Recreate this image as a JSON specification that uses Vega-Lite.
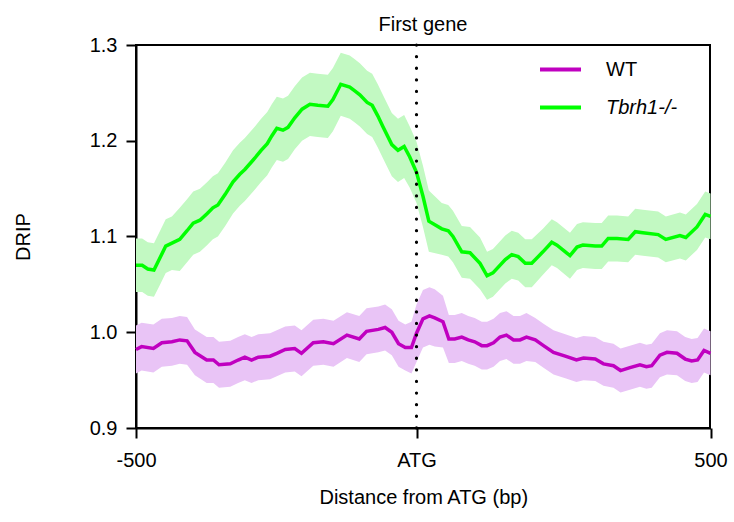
{
  "$schema": "https://vega.github.io/schema/vega-lite/v6.json",
  "width": 574,
  "height": 383,
  "autosize": {"type": "none"},
  "padding": {"left": 136, "top": 45, "right": 24, "bottom": 94},
  "background": "white",
  "title": {"text": "First gene", "fontSize": 20, "fontWeight": "normal", "font": "Liberation Sans", "color": "black", "offset": 0, "anchor": "middle"},
  "config": {
    "view": {"stroke": "black", "strokeWidth": 2},
    "font": "Liberation Sans",
    "axis": {"grid": false, "domainColor": "black", "domainWidth": 2, "tickColor": "black", "tickWidth": 2, "tickSize": 10, "labelColor": "black", "labelFontSize": 20, "labelFont": "Liberation Sans", "titleFont": "Liberation Sans", "titleFontSize": 20, "titleFontWeight": "normal", "titleColor": "black", "labelOverlap": false}
  },
  "data": {"values": [
    {"series":"Tbrh1-/-","x":-500,"v":1.070,"lo":1.042,"hi":1.098},
    {"series":"Tbrh1-/-","x":-489,"v":1.070,"lo":1.042,"hi":1.098},
    {"series":"Tbrh1-/-","x":-479,"v":1.066,"lo":1.038,"hi":1.094},
    {"series":"Tbrh1-/-","x":-468,"v":1.065,"lo":1.037,"hi":1.093},
    {"series":"Tbrh1-/-","x":-457,"v":1.078,"lo":1.050,"hi":1.106},
    {"series":"Tbrh1-/-","x":-447,"v":1.090,"lo":1.062,"hi":1.118},
    {"series":"Tbrh1-/-","x":-436,"v":1.093,"lo":1.065,"hi":1.121},
    {"series":"Tbrh1-/-","x":-422,"v":1.097,"lo":1.064,"hi":1.130},
    {"series":"Tbrh1-/-","x":-409,"v":1.106,"lo":1.073,"hi":1.139},
    {"series":"Tbrh1-/-","x":-398,"v":1.114,"lo":1.081,"hi":1.147},
    {"series":"Tbrh1-/-","x":-386,"v":1.117,"lo":1.084,"hi":1.150},
    {"series":"Tbrh1-/-","x":-373,"v":1.124,"lo":1.091,"hi":1.157},
    {"series":"Tbrh1-/-","x":-363,"v":1.130,"lo":1.097,"hi":1.163},
    {"series":"Tbrh1-/-","x":-354,"v":1.133,"lo":1.100,"hi":1.166},
    {"series":"Tbrh1-/-","x":-341,"v":1.144,"lo":1.111,"hi":1.177},
    {"series":"Tbrh1-/-","x":-327,"v":1.157,"lo":1.124,"hi":1.190},
    {"series":"Tbrh1-/-","x":-315,"v":1.165,"lo":1.132,"hi":1.198},
    {"series":"Tbrh1-/-","x":-306,"v":1.170,"lo":1.137,"hi":1.203},
    {"series":"Tbrh1-/-","x":-288,"v":1.182,"lo":1.149,"hi":1.215},
    {"series":"Tbrh1-/-","x":-277,"v":1.190,"lo":1.157,"hi":1.223},
    {"series":"Tbrh1-/-","x":-266,"v":1.197,"lo":1.164,"hi":1.230},
    {"series":"Tbrh1-/-","x":-258,"v":1.205,"lo":1.172,"hi":1.238},
    {"series":"Tbrh1-/-","x":-249,"v":1.213,"lo":1.180,"hi":1.246},
    {"series":"Tbrh1-/-","x":-238,"v":1.211,"lo":1.178,"hi":1.244},
    {"series":"Tbrh1-/-","x":-229,"v":1.214,"lo":1.181,"hi":1.247},
    {"series":"Tbrh1-/-","x":-217,"v":1.224,"lo":1.191,"hi":1.257},
    {"series":"Tbrh1-/-","x":-204,"v":1.233,"lo":1.200,"hi":1.266},
    {"series":"Tbrh1-/-","x":-190,"v":1.238,"lo":1.205,"hi":1.271},
    {"series":"Tbrh1-/-","x":-176,"v":1.237,"lo":1.204,"hi":1.270},
    {"series":"Tbrh1-/-","x":-158,"v":1.236,"lo":1.203,"hi":1.269},
    {"series":"Tbrh1-/-","x":-149,"v":1.243,"lo":1.210,"hi":1.276},
    {"series":"Tbrh1-/-","x":-135,"v":1.259,"lo":1.226,"hi":1.292},
    {"series":"Tbrh1-/-","x":-119,"v":1.256,"lo":1.223,"hi":1.289},
    {"series":"Tbrh1-/-","x":-110,"v":1.252,"lo":1.219,"hi":1.285},
    {"series":"Tbrh1-/-","x":-101,"v":1.248,"lo":1.215,"hi":1.281},
    {"series":"Tbrh1-/-","x":-88,"v":1.240,"lo":1.207,"hi":1.273},
    {"series":"Tbrh1-/-","x":-79,"v":1.237,"lo":1.204,"hi":1.270},
    {"series":"Tbrh1-/-","x":-69,"v":1.226,"lo":1.193,"hi":1.259},
    {"series":"Tbrh1-/-","x":-60,"v":1.215,"lo":1.182,"hi":1.248},
    {"series":"Tbrh1-/-","x":-44,"v":1.196,"lo":1.163,"hi":1.229},
    {"series":"Tbrh1-/-","x":-33,"v":1.190,"lo":1.157,"hi":1.223},
    {"series":"Tbrh1-/-","x":-22,"v":1.194,"lo":1.161,"hi":1.227},
    {"series":"Tbrh1-/-","x":-12,"v":1.183,"lo":1.151,"hi":1.215},
    {"series":"Tbrh1-/-","x":0,"v":1.167,"lo":1.135,"hi":1.199},
    {"series":"Tbrh1-/-","x":11,"v":1.142,"lo":1.110,"hi":1.174},
    {"series":"Tbrh1-/-","x":21,"v":1.116,"lo":1.084,"hi":1.148},
    {"series":"Tbrh1-/-","x":43,"v":1.108,"lo":1.081,"hi":1.135},
    {"series":"Tbrh1-/-","x":54,"v":1.106,"lo":1.079,"hi":1.133},
    {"series":"Tbrh1-/-","x":62,"v":1.100,"lo":1.073,"hi":1.127},
    {"series":"Tbrh1-/-","x":77,"v":1.084,"lo":1.057,"hi":1.111},
    {"series":"Tbrh1-/-","x":91,"v":1.083,"lo":1.056,"hi":1.110},
    {"series":"Tbrh1-/-","x":108,"v":1.072,"lo":1.045,"hi":1.099},
    {"series":"Tbrh1-/-","x":120,"v":1.059,"lo":1.034,"hi":1.084},
    {"series":"Tbrh1-/-","x":130,"v":1.062,"lo":1.037,"hi":1.087},
    {"series":"Tbrh1-/-","x":151,"v":1.076,"lo":1.051,"hi":1.101},
    {"series":"Tbrh1-/-","x":162,"v":1.081,"lo":1.056,"hi":1.106},
    {"series":"Tbrh1-/-","x":173,"v":1.079,"lo":1.054,"hi":1.104},
    {"series":"Tbrh1-/-","x":185,"v":1.072,"lo":1.047,"hi":1.097},
    {"series":"Tbrh1-/-","x":196,"v":1.072,"lo":1.047,"hi":1.097},
    {"series":"Tbrh1-/-","x":215,"v":1.084,"lo":1.060,"hi":1.108},
    {"series":"Tbrh1-/-","x":230,"v":1.094,"lo":1.070,"hi":1.118},
    {"series":"Tbrh1-/-","x":239,"v":1.091,"lo":1.067,"hi":1.115},
    {"series":"Tbrh1-/-","x":261,"v":1.080,"lo":1.056,"hi":1.104},
    {"series":"Tbrh1-/-","x":273,"v":1.089,"lo":1.065,"hi":1.113},
    {"series":"Tbrh1-/-","x":283,"v":1.091,"lo":1.067,"hi":1.115},
    {"series":"Tbrh1-/-","x":304,"v":1.090,"lo":1.066,"hi":1.114},
    {"series":"Tbrh1-/-","x":315,"v":1.090,"lo":1.066,"hi":1.114},
    {"series":"Tbrh1-/-","x":326,"v":1.098,"lo":1.074,"hi":1.122},
    {"series":"Tbrh1-/-","x":341,"v":1.098,"lo":1.074,"hi":1.122},
    {"series":"Tbrh1-/-","x":360,"v":1.097,"lo":1.073,"hi":1.121},
    {"series":"Tbrh1-/-","x":372,"v":1.105,"lo":1.081,"hi":1.129},
    {"series":"Tbrh1-/-","x":385,"v":1.104,"lo":1.080,"hi":1.128},
    {"series":"Tbrh1-/-","x":411,"v":1.102,"lo":1.078,"hi":1.126},
    {"series":"Tbrh1-/-","x":424,"v":1.097,"lo":1.073,"hi":1.121},
    {"series":"Tbrh1-/-","x":448,"v":1.101,"lo":1.077,"hi":1.125},
    {"series":"Tbrh1-/-","x":458,"v":1.099,"lo":1.075,"hi":1.123},
    {"series":"Tbrh1-/-","x":477,"v":1.110,"lo":1.086,"hi":1.134},
    {"series":"Tbrh1-/-","x":491,"v":1.123,"lo":1.099,"hi":1.147},
    {"series":"Tbrh1-/-","x":500,"v":1.121,"lo":1.097,"hi":1.145},
    {"series":"WT","x":-500,"v":0.982,"lo":0.957,"hi":1.007},
    {"series":"WT","x":-490,"v":0.985,"lo":0.960,"hi":1.010},
    {"series":"WT","x":-469,"v":0.983,"lo":0.958,"hi":1.008},
    {"series":"WT","x":-454,"v":0.989,"lo":0.964,"hi":1.014},
    {"series":"WT","x":-436,"v":0.990,"lo":0.965,"hi":1.015},
    {"series":"WT","x":-422,"v":0.992,"lo":0.967,"hi":1.017},
    {"series":"WT","x":-409,"v":0.991,"lo":0.966,"hi":1.016},
    {"series":"WT","x":-395,"v":0.979,"lo":0.955,"hi":1.003},
    {"series":"WT","x":-374,"v":0.971,"lo":0.947,"hi":0.995},
    {"series":"WT","x":-362,"v":0.971,"lo":0.947,"hi":0.995},
    {"series":"WT","x":-352,"v":0.966,"lo":0.942,"hi":0.990},
    {"series":"WT","x":-332,"v":0.967,"lo":0.943,"hi":0.991},
    {"series":"WT","x":-318,"v":0.971,"lo":0.947,"hi":0.995},
    {"series":"WT","x":-306,"v":0.974,"lo":0.950,"hi":0.998},
    {"series":"WT","x":-294,"v":0.971,"lo":0.947,"hi":0.995},
    {"series":"WT","x":-282,"v":0.974,"lo":0.950,"hi":0.998},
    {"series":"WT","x":-261,"v":0.975,"lo":0.951,"hi":0.999},
    {"series":"WT","x":-249,"v":0.978,"lo":0.954,"hi":1.002},
    {"series":"WT","x":-234,"v":0.982,"lo":0.958,"hi":1.006},
    {"series":"WT","x":-217,"v":0.983,"lo":0.959,"hi":1.007},
    {"series":"WT","x":-205,"v":0.978,"lo":0.954,"hi":1.002},
    {"series":"WT","x":-184,"v":0.989,"lo":0.965,"hi":1.013},
    {"series":"WT","x":-166,"v":0.990,"lo":0.966,"hi":1.014},
    {"series":"WT","x":-148,"v":0.988,"lo":0.964,"hi":1.012},
    {"series":"WT","x":-124,"v":0.997,"lo":0.973,"hi":1.021},
    {"series":"WT","x":-102,"v":0.993,"lo":0.969,"hi":1.017},
    {"series":"WT","x":-89,"v":1.001,"lo":0.977,"hi":1.025},
    {"series":"WT","x":-68,"v":1.003,"lo":0.979,"hi":1.027},
    {"series":"WT","x":-56,"v":1.005,"lo":0.981,"hi":1.029},
    {"series":"WT","x":-44,"v":1.000,"lo":0.976,"hi":1.024},
    {"series":"WT","x":-32,"v":0.988,"lo":0.964,"hi":1.012},
    {"series":"WT","x":-20,"v":0.984,"lo":0.960,"hi":1.008},
    {"series":"WT","x":-9,"v":0.984,"lo":0.957,"hi":1.011},
    {"series":"WT","x":0,"v":0.999,"lo":0.969,"hi":1.029},
    {"series":"WT","x":11,"v":1.014,"lo":0.984,"hi":1.044},
    {"series":"WT","x":22,"v":1.017,"lo":0.987,"hi":1.047},
    {"series":"WT","x":31,"v":1.015,"lo":0.985,"hi":1.045},
    {"series":"WT","x":45,"v":1.011,"lo":0.984,"hi":1.038},
    {"series":"WT","x":55,"v":0.993,"lo":0.968,"hi":1.018},
    {"series":"WT","x":65,"v":0.993,"lo":0.968,"hi":1.018},
    {"series":"WT","x":77,"v":0.995,"lo":0.970,"hi":1.020},
    {"series":"WT","x":88,"v":0.992,"lo":0.967,"hi":1.017},
    {"series":"WT","x":99,"v":0.990,"lo":0.965,"hi":1.015},
    {"series":"WT","x":111,"v":0.986,"lo":0.961,"hi":1.011},
    {"series":"WT","x":120,"v":0.986,"lo":0.961,"hi":1.011},
    {"series":"WT","x":131,"v":0.989,"lo":0.964,"hi":1.014},
    {"series":"WT","x":142,"v":0.995,"lo":0.970,"hi":1.020},
    {"series":"WT","x":153,"v":0.997,"lo":0.972,"hi":1.022},
    {"series":"WT","x":165,"v":0.992,"lo":0.967,"hi":1.017},
    {"series":"WT","x":176,"v":0.992,"lo":0.967,"hi":1.017},
    {"series":"WT","x":187,"v":0.995,"lo":0.970,"hi":1.020},
    {"series":"WT","x":202,"v":0.992,"lo":0.969,"hi":1.015},
    {"series":"WT","x":216,"v":0.986,"lo":0.963,"hi":1.009},
    {"series":"WT","x":233,"v":0.979,"lo":0.956,"hi":1.002},
    {"series":"WT","x":253,"v":0.975,"lo":0.952,"hi":0.998},
    {"series":"WT","x":272,"v":0.971,"lo":0.948,"hi":0.994},
    {"series":"WT","x":284,"v":0.973,"lo":0.950,"hi":0.996},
    {"series":"WT","x":304,"v":0.972,"lo":0.949,"hi":0.995},
    {"series":"WT","x":318,"v":0.967,"lo":0.944,"hi":0.990},
    {"series":"WT","x":335,"v":0.965,"lo":0.942,"hi":0.988},
    {"series":"WT","x":347,"v":0.960,"lo":0.937,"hi":0.983},
    {"series":"WT","x":363,"v":0.963,"lo":0.940,"hi":0.986},
    {"series":"WT","x":380,"v":0.966,"lo":0.943,"hi":0.989},
    {"series":"WT","x":391,"v":0.964,"lo":0.941,"hi":0.987},
    {"series":"WT","x":400,"v":0.965,"lo":0.942,"hi":0.988},
    {"series":"WT","x":414,"v":0.976,"lo":0.953,"hi":0.999},
    {"series":"WT","x":426,"v":0.979,"lo":0.956,"hi":1.002},
    {"series":"WT","x":443,"v":0.978,"lo":0.955,"hi":1.001},
    {"series":"WT","x":457,"v":0.972,"lo":0.949,"hi":0.995},
    {"series":"WT","x":468,"v":0.970,"lo":0.947,"hi":0.993},
    {"series":"WT","x":478,"v":0.971,"lo":0.948,"hi":0.994},
    {"series":"WT","x":489,"v":0.981,"lo":0.958,"hi":1.004},
    {"series":"WT","x":500,"v":0.978,"lo":0.955,"hi":1.001}
  ]},
  "encoding": {
    "x": {
      "field": "x", "type": "quantitative",
      "scale": {"domain": [-500, 0, 500], "range": [0, 280.5, 574.5], "nice": false, "zero": false},
      "axis": {"values": [-500, 0, 500], "labelExpr": "datum.value === 0 ? 'ATG' : '' + datum.value", "labelFlush": false, "labelPadding": 12, "title": "Distance from ATG (bp)", "titlePadding": 17}
    }
  },
  "layer": [
    {
      "mark": {"type": "area", "opacity": 1},
      "encoding": {
        "y": {"field": "lo", "type": "quantitative", "scale": {"domain": [0.9, 1.3], "nice": false, "zero": false}, "axis": {"values": [0.9, 1.0, 1.1, 1.2, 1.3], "format": ".1f", "labelPadding": 9, "title": "DRIP", "titlePadding": 56}},
        "y2": {"field": "hi"},
        "color": {"field": "series", "type": "nominal", "scale": {"domain": ["WT", "Tbrh1-/-"], "range": ["#E9C4F6", "#C2F9C2"]}, "legend": null}
      }
    },
    {
      "mark": {"type": "line", "strokeWidth": 3.5},
      "encoding": {
        "y": {"field": "v", "type": "quantitative", "scale": {"domain": [0.9, 1.3], "nice": false, "zero": false}, "axis": {"values": [0.9, 1.0, 1.1, 1.2, 1.3], "format": ".1f", "labelPadding": 9, "title": "DRIP", "titlePadding": 56}},
        "color": {
          "field": "series", "type": "nominal",
          "scale": {"domain": ["WT", "Tbrh1-/-"], "range": ["#C000C0", "#00FF00"]},
          "legend": {
            "title": null, "orient": "none", "legendX": 402, "legendY": 2,
            "symbolType": "stroke", "symbolSize": 1681, "symbolStrokeWidth": 4,
            "labelFontSize": 20, "labelColor": "black", "labelFont": "Liberation Sans", "labelOffset": 23, "rowPadding": 5, "padding": 0,
            "encode": {"labels": {"update": {"fontStyle": {"signal": "datum.label === 'WT' ? 'normal' : 'italic'"}}}}
          }
        }
      }
    },
    {
      "data": {"values": [{"x": 0}]},
      "mark": {"type": "rule", "color": "black", "strokeWidth": 3.2, "strokeDash": [0.1, 11.5], "strokeCap": "round"},
      "encoding": {}
    }
  ],
  "resolve": {"scale": {"color": "independent"}}
}
